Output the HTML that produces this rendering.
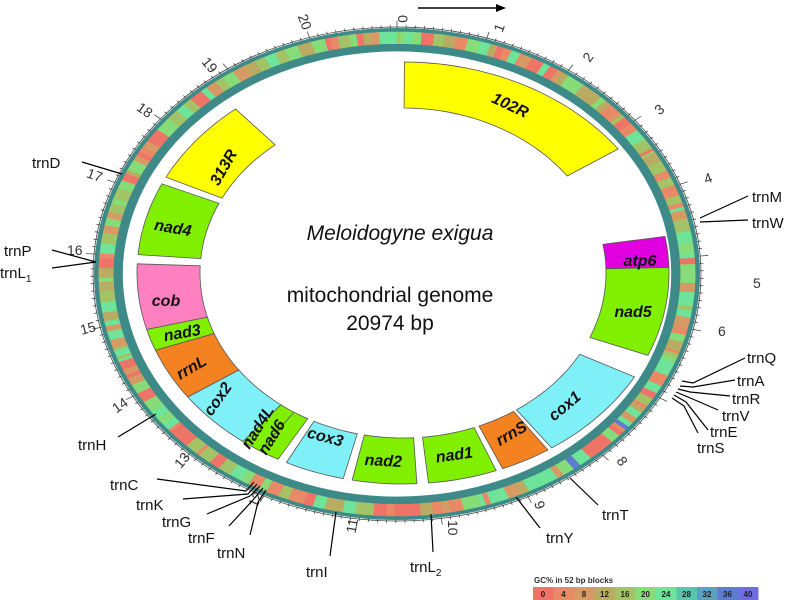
<!DOCTYPE html>
<html><head><meta charset="utf-8"><style>
html,body{margin:0;padding:0;background:#fff;width:800px;height:600px;overflow:hidden}
svg{display:block}
.g{font-family:"Liberation Sans",sans-serif;font-weight:bold;font-style:italic;font-size:16px;fill:#111}
.t{font-family:"Liberation Sans",sans-serif;font-size:15px;fill:#111}
.n{font-family:"Liberation Sans",sans-serif;font-size:14px;fill:#333}
.c{font-family:"Liberation Sans",sans-serif;font-size:21px;fill:#111}
</style></head><body>
<svg id="s" width="800" height="600" viewBox="0 0 800 600" xmlns="http://www.w3.org/2000/svg">
<g id="ring"></g>
<g id="genes" stroke="#555" stroke-width="0.8"></g>
<g id="ticks" stroke="#333" stroke-width="0.7"></g>
<line x1="418" y1="8" x2="498" y2="8" stroke="#000" stroke-width="1.5"/>
<polygon points="506,8 496,4 496,12" fill="#000"/>
<text class="c" x="400" y="240" text-anchor="middle" font-style="italic">Meloidogyne exigua</text>
<text class="c" x="390" y="302" text-anchor="middle">mitochondrial genome</text>
<text class="c" x="390" y="330" text-anchor="middle">20974 bp</text>
<text class="g" transform="translate(508,110) rotate(25)" text-anchor="middle">102R</text>
<text class="g" transform="translate(640,266)" text-anchor="middle">atp6</text>
<text class="g" transform="translate(633,317)" text-anchor="middle">nad5</text>
<text class="g" transform="translate(568,410) rotate(-40)" text-anchor="middle">cox1</text>
<text class="g" transform="translate(514,438) rotate(-30)" text-anchor="middle">rrnS</text>
<text class="g" transform="translate(455,460) rotate(-8)" text-anchor="middle">nad1</text>
<text class="g" transform="translate(383,466) rotate(3)" text-anchor="middle">nad2</text>
<text class="g" transform="translate(324,442) rotate(15)" text-anchor="middle">cox3</text>
<text class="g" transform="translate(262,430) rotate(-58)" text-anchor="middle">nad4L</text>
<text class="g" transform="translate(276,440) rotate(-58)" text-anchor="middle">nad6</text>
<text class="g" transform="translate(222,402) rotate(-55)" text-anchor="middle">cox2</text>
<text class="g" transform="translate(194,372) rotate(-30)" text-anchor="middle">rrnL</text>
<text class="g" transform="translate(183,338) rotate(-10)" text-anchor="middle">nad3</text>
<text class="g" transform="translate(166,306)" text-anchor="middle">cob</text>
<text class="g" transform="translate(172,233) rotate(10)" text-anchor="middle">nad4</text>
<text class="g" transform="translate(228,170) rotate(-60)" text-anchor="middle">313R</text>
<g class="n">
<text x="403" y="20" transform="rotate(90 403 15)">0</text>
<text x="496" y="32" transform="rotate(-70 500 28)">1</text>
<text x="584" y="62" transform="rotate(-55 588 57)">2</text>
<text x="656" y="114" transform="rotate(-40 660 110)">3</text>
<text x="704" y="183" transform="rotate(-20 708 178)">4</text>
<text x="753" y="288">5</text>
<text x="718" y="336">6</text>
<text x="618" y="467" transform="rotate(55 623 462)">8</text>
<text x="536" y="510" transform="rotate(70 540 505)">9</text>
<text x="440" y="532" transform="rotate(90 450 530)">10</text>
<text x="344" y="530" transform="rotate(-80 352 525)">11</text>
<text x="248" y="505" transform="rotate(-65 255 500)">12</text>
<text x="174" y="465" transform="rotate(-50 182 460)">13</text>
<text x="112" y="410" transform="rotate(-35 120 405)">14</text>
<text x="80" y="333" transform="rotate(-15 88 328)">15</text>
<text x="67" y="255">16</text>
<text x="87" y="180" transform="rotate(20 95 175)">17</text>
<text x="137" y="115" transform="rotate(35 145 110)">18</text>
<text x="202" y="70" transform="rotate(50 210 65)">19</text>
<text x="297" y="27" transform="rotate(70 305 22)">20</text>
</g>
<g stroke="#000" stroke-width="1.2" fill="none">
<line x1="82" y1="162" x2="122" y2="174"/>
<line x1="52" y1="250" x2="96" y2="262"/>
<line x1="52" y1="268" x2="96" y2="262"/>
<line x1="700" y1="218" x2="748" y2="196"/>
<line x1="700" y1="222" x2="748" y2="220"/>
<path d="M682,381 L693,383 L745,358"/>
<path d="M680,386 L693,387 L735,380"/>
<path d="M678,389 L690,392 L730,396"/>
<path d="M676,392 L688,397 L718,410"/>
<path d="M674,395 L686,402 L708,430"/>
<path d="M672,398 L684,406 L698,433"/>
<line x1="570" y1="478" x2="598" y2="505"/>
<line x1="516" y1="497" x2="540" y2="528"/>
<line x1="431" y1="514" x2="433" y2="552"/>
<line x1="336" y1="512" x2="330" y2="556"/>
<line x1="118" y1="437" x2="156" y2="414"/>
<path d="M157,479 L246,491 L254,482"/>
<path d="M183,499 L248,494 L257,484"/>
<path d="M207,514 L250,496 L260,486"/>
<path d="M229,526 L253,500 L263,488"/>
<path d="M250,535 L258,502 L266,490"/>
</g>
<g class="t">
<text x="32" y="168">trnD</text>
<text x="4" y="256">trnP</text>
<text x="0" y="278">trnL<tspan font-size="10" dy="4">1</tspan></text>
<text x="752" y="202">trnM</text>
<text x="752" y="228">trnW</text>
<text x="747" y="363">trnQ</text>
<text x="737" y="386">trnA</text>
<text x="732" y="404">trnR</text>
<text x="722" y="421">trnV</text>
<text x="710" y="437">trnE</text>
<text x="697" y="453">trnS</text>
<text x="602" y="520">trnT</text>
<text x="546" y="543">trnY</text>
<text x="410" y="572">trnL<tspan font-size="10" dy="4">2</tspan></text>
<text x="306" y="577">trnI</text>
<text x="78" y="450">trnH</text>
<text x="110" y="490">trnC</text>
<text x="136" y="510">trnK</text>
<text x="162" y="527">trnG</text>
<text x="188" y="543">trnF</text>
<text x="217" y="558">trnN</text>
</g>
<text x="534" y="583" font-family="Liberation Sans,sans-serif" font-weight="bold" font-size="8" fill="#333">GC% in 52 bp blocks</text>
<g id="leg"></g>
</svg>
<script>
var NS="http://www.w3.org/2000/svg",CX=397,CY=274;
function P(a,rx,ry,cx,cy){cx=cx||CX;cy=cy||CY;var r=a*Math.PI/180;return [cx+rx*Math.sin(r),cy-ry*Math.cos(r)];}
function sect(a1,a2,rxo,ryo,rxi,ryi,cx,cy){var n=Math.max(2,Math.ceil((a2-a1)/1.5)),pts=[],i,a;
for(i=0;i<=n;i++){a=a1+(a2-a1)*i/n;pts.push(P(a,rxo,ryo,cx,cy));}
for(i=n;i>=0;i--){a=a1+(a2-a1)*i/n;pts.push(P(a,rxi,ryi,cx,cy));}
return "M"+pts.map(function(p){return p[0].toFixed(1)+","+p[1].toFixed(1)}).join("L")+"Z";}
function add(g,tag,at){var e=document.createElementNS(NS,tag);for(var k in at)e.setAttribute(k,at[k]);g.appendChild(e);return e;}
var ring=document.getElementById("ring");
var RX=303,RY=246;
add(ring,"ellipse",{cx:CX,cy:CY,rx:RX,ry:RY,fill:"#3d8a88"});
var pal=["#ef7468","#e88a66","#d79a64","#b9ac62","#a3c466","#86dc78","#6ee39a","#56c7ac","#5aa0c0","#5c7cd0","#6e6ee0"];
var seed=7;function rnd(){seed=(seed*16807)%2147483647;return seed/2147483647;}
var a=0;
while(a<360){var w=0.6+rnd()*2.2;var r=rnd(),idx;
if(a>125&&a<150&&r>0.85)idx=8+Math.floor(rnd()*2);
else if(r<0.3)idx=Math.floor(rnd()*2);else if(r<0.55)idx=2+Math.floor(rnd()*2);else idx=4+Math.floor(rnd()*3);
add(ring,"path",{d:sect(a,Math.min(360,a+w+0.1),RX*0.985,RY*0.985,RX*0.935,RY*0.935),fill:pal[idx]});a+=w;}
add(ring,"path",{d:sect(0,360,RX*0.935,RY*0.935,RX*0.905,RY*0.905),fill:"#3d8a88"});
add(ring,"ellipse",{cx:CX,cy:CY,rx:RX*0.905,ry:RY*0.905,fill:"#fff"});
var genes=document.getElementById("genes");
var GX=403,GY=273;
var G=[[0.3,54,"#ffff00"],[80,88.5,"#e000e0"],[88.5,113,"#80f000"],[119.5,146,"#80f0f8"],[147,158,"#f58220"],
[159.5,174.5,"#80f000"],[177,191,"#80f000"],[193,206,"#80f0f8"],[208,217,"#80f000"],[217,234,"#80f0f8"],
[234,248.5,"#f58220"],[248.5,254.5,"#80f000"],[254.5,272.5,"#ff80c0"],[275,295,"#80f000"],[297,321,"#ffff00"]];
G.forEach(function(g){add(genes,"path",{d:sect(g[0],g[1],266,211,203,165,GX,GY),fill:g[2]});});
add(genes,"path",{d:"M"+P(212.5,266,211,GX,GY).join(",")+"L"+P(212.5,203,165,GX,GY).join(","),fill:"none"});
var t=document.getElementById("ticks");
for(var i=0;i<210;i++){var an=i*360/209.74,L=(i%10==0)?1.03:1.012;var p1=P(an,RX,RY),p2=P(an,RX*L,RY*L);
add(t,"line",{x1:p1[0],y1:p1[1],x2:p2[0],y2:p2[1]});}
add(t,"ellipse",{cx:CX,cy:CY,rx:RX+1,ry:RY+1,fill:"none"});
var leg=document.getElementById("leg"),labs=["0","4","8","12","16","20","24","28","32","36","40"];
labs.forEach(function(l,i){add(leg,"rect",{x:533+i*20.5,y:587,width:20.5,height:13,fill:pal[i]});
var tx=add(leg,"text",{x:543+i*20.5,y:597,"text-anchor":"middle","font-family":"Liberation Sans,sans-serif","font-size":"8","font-weight":"bold",fill:"#222"});tx.textContent=l;});
</script>
</body></html>
